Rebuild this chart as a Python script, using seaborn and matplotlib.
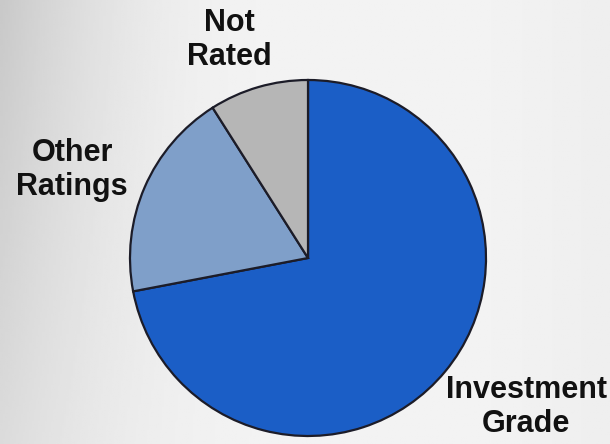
import numpy as np
import matplotlib
matplotlib.use("Agg")
import matplotlib.pyplot as plt
import seaborn as sns

# share of holdings by credit rating
categories = ["Investment Grade", "Other Ratings", "Not Rated"]
shares = [72, 19, 9]
labels = ["Investment\nGrade", "Other\nRatings", "Not\nRated"]
colors = ["#1B5EC6", "#7F9FC9", "#B6B6B6"]

sns.set_theme(style="white")
plt.rcParams["font.family"] = ["Liberation Sans", "DejaVu Sans"]

W, H = 610, 444
fig = plt.figure(figsize=(W / 100, H / 100), dpi=100)
ax = fig.add_axes([0, 0, 1, 1])

# brushed grey backdrop: light in the middle, a bit darker towards the left edge
yy, xx = np.mgrid[0:1:200j, 0:1:280j]
bg = 0.95 - 0.45 * np.clip(0.45 - xx, 0, None) ** 2 * (1.0 + 0.8 * (1 - yy)) \
     - 0.08 * np.clip(xx - 0.8, 0, None)
ax.imshow(bg, cmap="gray", vmin=0, vmax=1, extent=(0, W, 0, H), aspect="auto", zorder=0)

ax.pie(shares, colors=colors, startangle=90, counterclock=False,
       center=(308, H - 258), radius=178,
       wedgeprops=dict(edgecolor="#1c1c28", linewidth=1.6, zorder=2))

label_pos = [(526, H - 407), (72, H - 170), (229, H - 40)]
for txt, (x, y) in zip(labels, label_pos):
    ax.text(x, y, txt, ha="center", va="center", fontsize=22, fontweight="bold",
            color="#111111", linespacing=1.2, zorder=3)

ax.set_xlim(0, W)
ax.set_ylim(0, H)
ax.set_aspect("equal")
ax.axis("off")

fig.savefig("out.png", dpi=100)
